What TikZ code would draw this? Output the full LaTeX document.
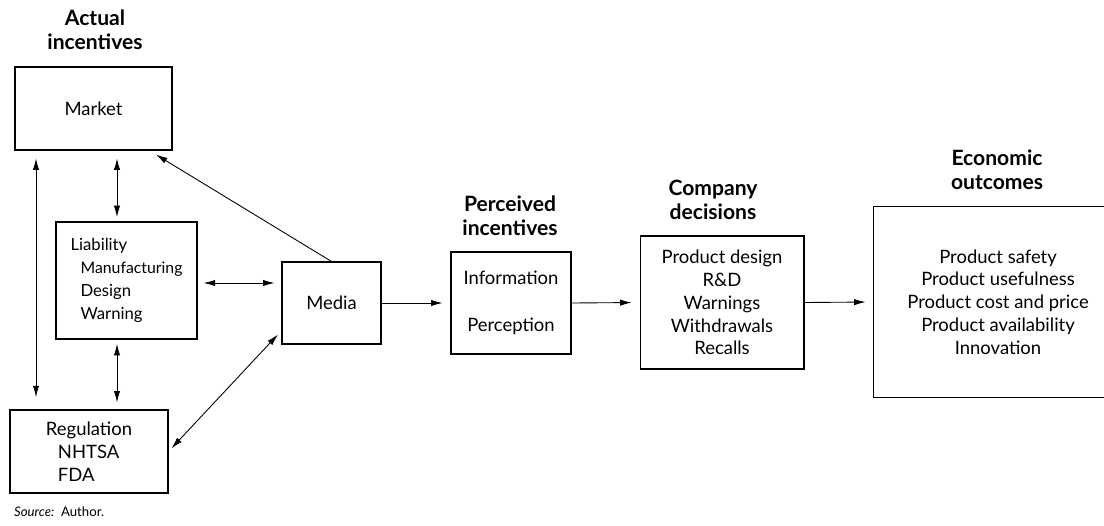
\documentclass[tikz,border=0pt]{standalone}
\usepackage{fontspec}
\setmainfont{Lato}
\usetikzlibrary{arrows.meta}

\begin{document}
\begin{tikzpicture}[> = {Latex[length = 6.5pt, width = 3.6pt]}, x = 0.02cm, y = -0.02cm,
	font = \fontsize{10.5}{13}\selectfont,
	box/.style = {draw, line width = 0.6pt, inner sep = 0pt, align = center},
	heading/.style = {font = \fontsize{12}{13.8}\selectfont\bfseries, align = center},
	link/.style = {line width = 0.5pt}]

	\useasboundingbox (0, 0) rectangle (1104, 526);

	% Column headings

	\node (actualhead) [heading] at (95, 30) {Actual\\incentives};
	\node (perceivedhead) [heading] at (510, 216) {Perceived\\incentives};
	\node (companyhead) [heading] at (713, 200) {Company\\decisions};
	\node (economichead) [heading] at (997, 170) {Economic\\outcomes};

	% Actual incentives

	\node (market) [box, minimum width = 3.14cm, minimum height = 1.66cm] at (93.5, 108.5) {Market};
	\node (liability) [box, align = left, minimum width = 2.82cm, minimum height = 2.34cm,
		font = \fontsize{9.5}{13}\selectfont] at (126.5, 280.5)
		{Liability\\\hspace*{2mm}{\fontsize{9}{13}\selectfont Manufacturing}\\\hspace*{2mm}Design\\\hspace*{2mm}Warning};
	\node (regulation) [box, align = left, minimum width = 3.16cm, minimum height = 1.66cm] at (89, 451.5)
		{Regulation\\\hspace*{2.4mm}NHTSA\\\hspace*{2.4mm}FDA};
	\node (media) [box, minimum width = 1.98cm, minimum height = 1.64cm] at (331.5, 303) {Media};

	% Perceived incentives, decisions and outcomes

	\node (perceived) [box, minimum width = 2.4cm, minimum height = 2.04cm] at (511, 303)
		{Information\\[14pt]Perception};
	\node (company) [box, minimum width = 3.28cm, minimum height = 2.66cm] at (722, 302.5)
		{Product design\\R\&D\\Warnings\\Withdrawals\\Recalls};
	\node (economic) [box, draw = none, minimum width = 4.96cm, minimum height = 3.8cm] at (998, 302)
		{Product safety\\Product usefulness\\Product cost and price\\Product availability\\Innovation};

	% Outcome box runs off the right edge
	\coordinate (rightedge) at (1104, 0);
	\draw [line width = 0.6pt] (economic.north west -| rightedge) -- (economic.north west)
		-- (economic.south west) -- (economic.south west -| rightedge);

	% Links between the actual incentives

	\coordinate (leftline) at (36, 0);
	\coordinate (midline) at (117, 0);
	\coordinate (lmline) at (0, 283);

	\begin{scope}[link, <->]

		\draw [shorten < = 4.5pt, shorten > = 7pt] (market.south -| leftline) -- (regulation.north -| leftline);
		\draw [shorten < = 4.5pt, shorten > = 2.5pt] (market.south -| midline) -- (liability.north -| midline);
		\draw [shorten < = 2.5pt, shorten > = 4pt] (liability.south -| midline) -- (regulation.north -| midline);
		\draw [shorten < = 3.5pt, shorten > = 4pt] (liability.east |- lmline) -- (media.west |- lmline);
		\draw [shorten < = 2.5pt, shorten > = 3pt] (regulation.east) -- (media.209);

	\end{scope}

	\draw [link, ->, shorten > = 4.5pt] (media.north) -- (market.-37);

	% Main chain

	\begin{scope}[link, ->, shorten > = 4.5pt]

		\draw (media.east) -- (perceived.west);
		\draw (perceived.east) -- (company.west);
		\draw (company.east) -- (economic.west);

	\end{scope}

	% Source line

	\node (source) [anchor = west, font = \fontsize{7.5}{9}\selectfont] at (8, 512) {\textit{Source:}\ \ Author.};

\end{tikzpicture}
\end{document}
